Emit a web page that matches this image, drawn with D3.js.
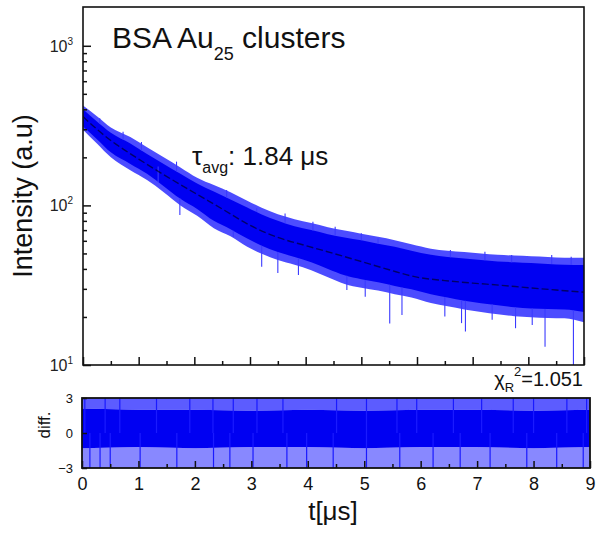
<!DOCTYPE html>
<html><head><meta charset="utf-8">
<script src="https://cdn.jsdelivr.net/npm/d3@7"></script>
<style>
html,body{margin:0;padding:0;background:#fff;}
svg{display:block;font-family:"Liberation Sans",Arial,sans-serif;}
</style></head>
<body>
<svg id="chart" width="602" height="534"></svg>
<script>
// ---- data ----
const tFit = [0,0.25,0.5,0.75,1,1.5,2,2.5,3,3.5,4,4.5,5,5.5,6,6.5,7,7.5,8,8.5,9];
const fitVals = [360,300,255,222,195,152,120,95,75,63,56,50,44.5,39.5,35.5,33.8,32.6,31.6,30.5,29.5,28.6];

const tEnv = [0,0.25,0.5,0.85,1.15,1.45,1.75,2.05,2.35,2.65,2.95,3.2,3.5,3.8,4.1,4.4,4.7,5.0,5.3,5.6,5.9,6.25,6.55,6.85,7.15,7.45,7.75,8.05,8.35,8.65,9.0];
// dense core of the decay band
const envUpper = [400,335,285,244,210,182,158,137,122,109,97,88,80,74,70,66,63,60.5,57.5,55,52,49,47.5,46.5,45.5,44.5,44,43.5,43,42.5,42.3];
const envLower = [312,260,215,182,158,132,110,95,80,71,62,56,51,47.5,44,40,36.5,34.5,33,31.3,29.8,27.8,26.5,25.3,24.4,23.7,23.0,22.6,22.4,22.3,21.5];
// light, spiky fringe around it
const fringeUpper = [422,362,308,268,231,200,173,149,134,121,107,97,88,82,77.5,73,69.5,66.5,63.5,60.5,57,53.5,52,51,50,49,48.5,48,47.5,47,47];
const fringeLower = [298,244,200,166,144,121,100,86,72,64,55,50,45.5,42.5,39.3,35.5,32.2,30.5,29.3,27.8,26.5,24.5,23.3,22.3,21.5,20.8,20.2,19.9,19.7,19.6,18.5];

const spikeT = [0.3,0.72,1.05,1.35,1.68,2.58,3.12,3.63,4.13,4.53,5.0,5.3,6.6,7.22,7.7,8.42,8.77,
                1.74,2.7,3.21,3.5,3.87,4.74,5.07,5.51,5.73,6.5,6.8,6.87,7.35,7.77,8.07,8.3,8.81];
const spikeV = [352,289,250,175,188,124.8,95.8,89,78.9,73.5,67,62,52.5,51.3,48.9,48.9,47.6,
                87,63.6,41.3,37.7,36.6,29.5,26.8,18.2,20.6,20.1,18.3,16.2,19.2,17,17.8,13.0,10];

const tRes = [0,1,2,3,4,5,6,7,8,9];
const resCoreUp = [2.1,2.0,2.0,1.9,2.0,1.9,2.0,2.0,1.9,2.0];
const resCoreLo = [-1.3,-1.2,-1.3,-1.2,-1.2,-1.3,-1.2,-1.2,-1.3,-1.2];
const resFringeUp = [3,3,3,3,3,3,3,3,3,3];
const resFringeLo = [-3,-3,-3,-3,-3,-3,-3,-3,-3,-3];
const resSpikeT = [0.05,0.41,0.67,1.32,1.91,2.32,2.68,3.1,3.56,4.51,5.04,5.58,5.93,6.58,7.08,7.64,8.0,8.59,8.94,
                   0.14,0.32,0.5,1.03,1.68,2.33,2.62,3.03,3.63,3.98,4.45,5.04,5.63,6.22,6.7,7.23,7.88,8.41,8.88];
const resSpikeV = [3,3,3,3,3,3,3,3,3,3,3,3,3,3,3,3,3,3,3,
                   -3,-3,-3,-3,-3,-3,-3,-3,-3,-3,-3,-3,-3,-3,-3,-3,-3,-3,-3];

const xMajor = [0,1,2,3,4,5,6,7,8,9];
const xMinor = [0.5,1.5,2.5,3.5,4.5,5.5,6.5,7.5,8.5];
const yMajor = [10,100,1000];
const yMinor = [20,30,40,50,60,70,80,90,200,300,400,500,600,700,800,900];
const resTicks = [-3,0,3];

// ---- drawing ----
const svg = d3.select("#chart");
const BLUE = "#0000f2";

const xMain = d3.scaleLinear().domain([0,9]).range([83,584]);
const yMain = d3.scaleLog().domain([10,1750]).range([365,7]);
const xRes = d3.scaleLinear().domain([0,9]).range([82,590]);
const yRes = d3.scaleLinear().domain([-3,3]).range([468,398]);

const defs = svg.append("defs");
defs.append("clipPath").attr("id","cm").append("rect")
  .attr("x",83).attr("y",7).attr("width",501).attr("height",358);
defs.append("clipPath").attr("id","cr").append("rect")
  .attr("x",82).attr("y",398).attr("width",508).attr("height",70);

// main band
const gm = svg.append("g").attr("clip-path","url(#cm)");
const envData = tEnv.map((t,i)=>({t, u:envUpper[i], l:envLower[i], fu:fringeUpper[i], fl:fringeLower[i]}));
const curve = d3.curveMonotoneX;
gm.append("path").datum(envData)
  .attr("fill","#4c4cff")
  .attr("d", d3.area().curve(curve).x(d=>xMain(d.t)).y0(d=>yMain(d.fl)).y1(d=>yMain(d.fu)));
gm.append("path").datum(envData)
  .attr("fill",BLUE)
  .attr("d", d3.area().curve(curve).x(d=>xMain(d.t)).y0(d=>yMain(d.l)).y1(d=>yMain(d.u)));
// spikes
const logInterp = (arr,t)=>{
  const i = Math.max(1, d3.bisectLeft(tEnv,t));
  const i0=i-1, i1=Math.min(i,tEnv.length-1);
  const f = i1===i0?0:(t-tEnv[i0])/(tEnv[i1]-tEnv[i0]);
  return Math.exp(Math.log(arr[i0])*(1-f)+Math.log(arr[i1])*f);
};
gm.selectAll("line.sp").data(spikeT.map((t,i)=>({t,v:spikeV[i]}))).enter()
  .append("line")
  .attr("x1",d=>xMain(d.t)).attr("x2",d=>xMain(d.t))
  .attr("y1",d=>yMain(d.v))
  .attr("y2",d=>yMain(d.v > logInterp(envUpper,d.t) ? logInterp(envUpper,d.t) : logInterp(envLower,d.t)))
  .attr("stroke","#3a3aff").attr("stroke-width",1.1);
// fit
gm.append("path").datum(tFit.map((t,i)=>({t,v:fitVals[i]})))
  .attr("fill","none").attr("stroke","#000030").attr("stroke-opacity",0.7)
  .attr("stroke-width",1.4).attr("stroke-dasharray","7,3")
  .attr("d", d3.line().curve(d3.curveMonotoneX).x(d=>xMain(d.t)).y(d=>yMain(d.v)));

// main frame
svg.append("rect").attr("x",83).attr("y",7).attr("width",501).attr("height",358)
  .attr("fill","none").attr("stroke","#111").attr("stroke-width",1.6);

// main axes ticks
svg.append("g").attr("transform","translate(0,365)")
  .call(d3.axisBottom(xMain).tickValues(xMajor).tickSize(-8).tickFormat(""));
svg.append("g").attr("transform","translate(0,365)")
  .call(d3.axisBottom(xMain).tickValues(xMinor).tickSize(-4).tickFormat(""));
svg.append("g").attr("transform","translate(83,0)")
  .call(d3.axisLeft(yMain).tickValues(yMajor).tickSize(-8).tickFormat(""));
svg.append("g").attr("transform","translate(83,0)")
  .call(d3.axisLeft(yMain).tickValues(yMinor).tickSize(-4).tickFormat(""));
svg.selectAll(".domain").remove();
svg.selectAll(".tick line").attr("stroke","#111").attr("stroke-width",1.5);

// y tick labels 10^n
yMajor.forEach(v=>{
  const t = svg.append("text").attr("x",73).attr("y",yMain(v)+6)
    .attr("text-anchor","end").attr("fill","#222").attr("font-size",16);
  t.append("tspan").text("10");
  t.append("tspan").text(String(Math.round(Math.log10(v)))).attr("font-size",10).attr("dy",-7);
});

// residual panel
const gr = svg.append("g").attr("clip-path","url(#cr)");
const resData = tRes.map((t,i)=>({t,cu:resCoreUp[i],cl:resCoreLo[i],fu:resFringeUp[i],fl:resFringeLo[i]}));
gr.append("path").datum(resData).attr("fill","#5c5cff")
  .attr("d", d3.area().x(d=>xRes(d.t)).y0(d=>yRes(d.cu)).y1(d=>yRes(d.fu)));
gr.append("path").datum(resData).attr("fill","#8888ff")
  .attr("d", d3.area().x(d=>xRes(d.t)).y0(d=>yRes(d.fl)).y1(d=>yRes(d.cl)));
gr.append("path").datum(resData).attr("fill",BLUE)
  .attr("d", d3.area().x(d=>xRes(d.t)).y0(d=>yRes(d.cl)).y1(d=>yRes(d.cu)));
gr.selectAll("line.rs").data(resSpikeT.map((t,i)=>({t,v:resSpikeV[i]}))).enter()
  .append("line")
  .attr("x1",d=>xRes(d.t)).attr("x2",d=>xRes(d.t))
  .attr("y1",d=>yRes(d.v)).attr("y2",yRes(0))
  .attr("stroke","#1a1aff").attr("stroke-width",1.2);

svg.append("rect").attr("x",82).attr("y",398).attr("width",508).attr("height",70)
  .attr("fill","none").attr("stroke","#111").attr("stroke-width",1.8);

const rb = svg.append("g").attr("transform","translate(0,468)")
  .call(d3.axisBottom(xRes).tickValues(xMajor).tickSize(-7).tickPadding(12).tickFormat(d3.format("d")));
svg.append("g").attr("transform","translate(0,468)")
  .call(d3.axisBottom(xRes).tickValues(xMinor).tickSize(-4).tickFormat(""));
rb.selectAll("text").attr("font-size",18).attr("fill","#111")
  .attr("font-family","'Liberation Sans',Arial,sans-serif").attr("dy","0.71em").attr("y",9);
const rl = svg.append("g").attr("transform","translate(82,0)")
  .call(d3.axisLeft(yRes).tickValues(resTicks).tickSize(-5).tickPadding(9).tickFormat(d3.format("d")));
rl.selectAll("text").attr("font-size",13).attr("fill","#111")
  .attr("font-family","'Liberation Sans',Arial,sans-serif");
svg.selectAll(".domain").remove();
svg.selectAll(".tick line").attr("stroke","#111").attr("stroke-width",1.5);

// titles / annotations
const ti = svg.append("text").attr("x",112).attr("y",48).attr("font-size",30).attr("fill","#111");
ti.append("tspan").text("BSA Au");
ti.append("tspan").text("25").attr("font-size",18).attr("dy",12);
ti.append("tspan").text(" clusters").attr("dy",-12);

const ta = svg.append("text").attr("x",192).attr("y",165).attr("font-size",26).attr("fill","#111");
ta.append("tspan").text("τ");
ta.append("tspan").text("avg").attr("font-size",16).attr("dy",8);
ta.append("tspan").text(": 1.84 μs").attr("dy",-8);

const tc = svg.append("text").attr("x",583).attr("y",386).attr("font-size",20)
  .attr("text-anchor","end").attr("fill","#111");
tc.append("tspan").text("χ");
tc.append("tspan").text("R").attr("font-size",13).attr("dy",6);
tc.append("tspan").text("2").attr("font-size",13).attr("dy",-16);
tc.append("tspan").text("=1.051").attr("dy",10);

svg.append("text").attr("transform","translate(32,196) rotate(-90)")
  .attr("text-anchor","middle").attr("font-size",27).attr("fill","#111").text("Intensity (a.u)");
svg.append("text").attr("transform","translate(50,425) rotate(-90)")
  .attr("text-anchor","middle").attr("font-size",17).attr("fill","#111").text("diff.");
svg.append("text").attr("x",333).attr("y",520)
  .attr("text-anchor","middle").attr("font-size",26).attr("fill","#111").text("t[μs]");
</script>
</body></html>
